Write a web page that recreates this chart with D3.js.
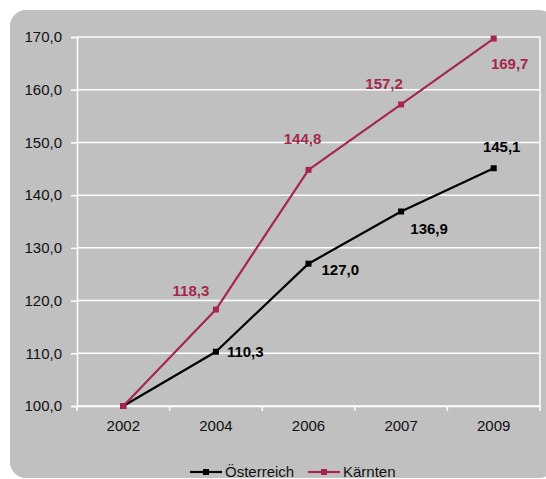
<!DOCTYPE html>
<html>
<head>
<meta charset="utf-8">
<script src="https://cdn.jsdelivr.net/npm/d3@7"></script>
<style>
  html, body { margin: 0; padding: 0; background: #ffffff; }
  svg { display: block; }
  svg text { font-family: "Liberation Sans", Arial, sans-serif; }
</style>
</head>
<body>
<svg id="chart" width="546" height="479"></svg>
<script>
// Index values (2002 = 100)
const years = ["2002", "2004", "2006", "2007", "2009"];
const oesterreich = [100.0, 110.3, 127.0, 136.9, 145.1];
const kaernten = [100.0, 118.3, 144.8, 157.2, 169.7];
const yTicks = [100, 110, 120, 130, 140, 150, 160, 170];
const seriesNames = ["Österreich", "Kärnten"];

// label offsets relative to each point: [dx, dy, anchor]
const oeLabelPos = [null, [11, 5, "start"], [13, 11, "start"], [28, 23, "middle"], [8, -16, "middle"]];
const kaLabelPos = [null, [-25, -14, "middle"], [-6, -26, "middle"], [-17, -15, "middle"], [16, 30, "middle"]];

const colors = { oe: "#000000", ka: "#a3284c" };
const fmt = v => d3.format(".1f")(v).replace(".", ",");
const FONT = "'Liberation Sans', Arial, sans-serif";

const svg = d3.select("#chart");

// panel background
svg.append("rect")
  .attr("x", 10).attr("y", 10)
  .attr("width", 545).attr("height", 468)
  .attr("rx", 16).attr("ry", 16)
  .attr("fill", "#c0c0c0");

const plot = { left: 77, right: 540, top: 37, bottom: 406 };

const x = d3.scaleBand().domain(years).range([plot.left, plot.right]).paddingInner(0).paddingOuter(0);
const y = d3.scaleLinear().domain([100, 170]).range([plot.bottom, plot.top]);
const cx = d => x(d) + x.bandwidth() / 2;

// horizontal grid
svg.append("g").selectAll("line").data(yTicks).join("line")
  .attr("x1", plot.left).attr("x2", plot.right)
  .attr("y1", d => y(d)).attr("y2", d => y(d))
  .attr("stroke", "#ffffff").attr("stroke-width", 1.5);

// right border of plot area
svg.append("line")
  .attr("x1", plot.right).attr("x2", plot.right)
  .attr("y1", plot.top).attr("y2", plot.bottom)
  .attr("stroke", "#ffffff").attr("stroke-width", 1.5);

// y axis
const yAxis = svg.append("g")
  .attr("transform", `translate(${plot.left},0)`)
  .call(d3.axisLeft(y).tickValues(yTicks).tickFormat(fmt).tickSize(6).tickPadding(9))
  .attr("font-family", FONT);
yAxis.select(".domain").attr("stroke", "#ffffff").attr("stroke-width", 1.5);
yAxis.selectAll(".tick line").attr("stroke", "#ffffff").attr("stroke-width", 1.5);
yAxis.selectAll("text").attr("fill", "#111111").attr("font-size", 15);

// x axis with ticks at category boundaries
const xAxis = svg.append("g")
  .attr("transform", `translate(0,${plot.bottom})`)
  .call(d3.axisBottom(x).tickSize(0).tickPadding(14))
  .attr("font-family", FONT);
xAxis.select(".domain").attr("stroke", "#ffffff").attr("stroke-width", 1.5);
xAxis.selectAll("text").attr("fill", "#111111").attr("font-size", 15);
const bounds = years.map(d => x(d)).concat([plot.right]);
svg.append("g").selectAll("line").data(bounds).join("line")
  .attr("x1", d => d).attr("x2", d => d)
  .attr("y1", plot.bottom).attr("y2", plot.bottom + 5)
  .attr("stroke", "#ffffff").attr("stroke-width", 1.5);

const line = d3.line().x((d, i) => cx(years[i])).y(d => y(d));

function drawSeries(values, color, labelPos) {
  svg.append("path").datum(values)
    .attr("d", line)
    .attr("fill", "none")
    .attr("stroke", color)
    .attr("stroke-width", 2.2)
    .attr("stroke-linejoin", "round");
  svg.append("g").selectAll("rect").data(values).join("rect")
    .attr("x", (d, i) => cx(years[i]) - 3)
    .attr("y", d => y(d) - 3)
    .attr("width", 6).attr("height", 6)
    .attr("fill", color);
  const items = values.map((v, i) => ({ v, i })).filter(o => labelPos[o.i] !== null);
  svg.append("g").selectAll("text").data(items).join("text")
    .attr("x", o => cx(years[o.i]) + labelPos[o.i][0])
    .attr("y", o => y(o.v) + labelPos[o.i][1])
    .attr("text-anchor", o => labelPos[o.i][2])
    .attr("font-family", FONT)
    .attr("font-size", 15)
    .attr("font-weight", "bold")
    .attr("fill", color)
    .text(o => fmt(o.v));
}

drawSeries(oesterreich, colors.oe, oeLabelPos);
drawSeries(kaernten, colors.ka, kaLabelPos);

// legend
const legendItems = [
  { name: seriesNames[0], color: colors.oe, x: 190 },
  { name: seriesNames[1], color: colors.ka, x: 308 }
];
const lg = svg.append("g").selectAll("g").data(legendItems).join("g")
  .attr("transform", d => `translate(${d.x},472)`);
lg.append("line").attr("x1", 0).attr("x2", 32).attr("y1", 0).attr("y2", 0)
  .attr("stroke", d => d.color).attr("stroke-width", 2.2);
lg.append("rect").attr("x", 13).attr("y", -3).attr("width", 6).attr("height", 6)
  .attr("fill", d => d.color);
lg.append("text").attr("x", 35).attr("y", 5)
  .attr("font-family", FONT)
  .attr("font-size", 15).attr("fill", "#111111")
  .text(d => d.name);
</script>
</body>
</html>
